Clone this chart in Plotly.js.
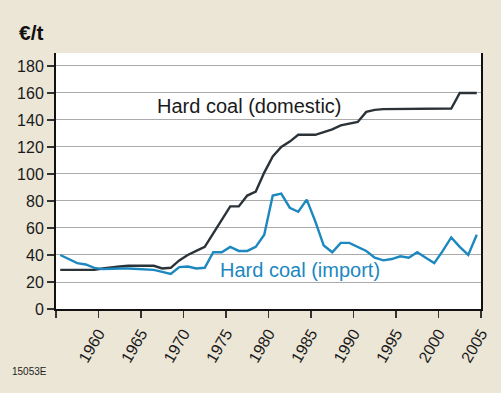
<!DOCTYPE html>
<html>
<head>
<meta charset="utf-8">
<script src="https://cdn.plot.ly/plotly-3.0.1.min.js"></script>
<style>
  html, body { margin: 0; padding: 0; background: #ECE6D7; }
  #chart { width: 501px; height: 393px; }
</style>
</head>
<body>
<div id="chart"></div>
<script>
// Years (annual values, plotted at mid-year)
const years = [];
for (let y = 1955; y <= 2004; y++) years.push(y);

// Hard coal (domestic), €/t
const domestic = [
  29, 29, 29, 29, 29,          // 1955-1959
  30, 31, 31.5, 32, 32,        // 1960-1964
  32, 32, 30, 30.5, 36,        // 1965-1969
  40, 43, 46, 56, 66,          // 1970-1974
  76, 76, 84, 87, 101,         // 1975-1979
  113, 120, 124, 129, 129,     // 1980-1984
  129, 131, 133, 136, 137,     // 1985-1989
  138.5, 146, 147.5, 148, 148, // 1990-1994
  148, 148, 148, 148, 148,     // 1995-1999
  148, 148.5, 160, 160, 160    // 2000-2004
];

// Hard coal (import), €/t
const imported = [
  40, 37, 34, 33, 30.5,        // 1955-1959
  29.5, 30, 30, 30, 29.5,      // 1960-1964
  29.5, 29, 27.5, 26, 31,      // 1965-1969
  31.5, 30, 30.5, 42, 42,      // 1970-1974
  46, 43, 43, 46, 55,          // 1975-1979
  84, 85.5, 75, 72, 81,        // 1980-1984
  65, 47, 42, 49, 49,          // 1985-1989
  46, 43, 38, 36, 37,          // 1990-1994
  39, 38, 42, 38, 34,          // 1995-1999
  43, 53, 46, 40, 55           // 2000-2004
];

const xTickVals = [1955, 1960, 1965, 1970, 1975, 1980, 1985, 1990, 1995, 2000, 2005];
const xTickText = ["", "1960", "1965", "1970", "1975", "1980", "1985", "1990", "1995", "2000", "2005"];
const yTickVals = [0, 20, 40, 60, 80, 100, 120, 140, 160, 180];

const xMid = years.map(y => y + 0.5);

const traces = [
  {
    x: xMid, y: domestic, type: 'scatter', mode: 'lines',
    line: { color: '#2b3338', width: 2.4 },
    name: 'Hard coal (domestic)', hoverinfo: 'none'
  },
  {
    x: xMid, y: imported, type: 'scatter', mode: 'lines',
    line: { color: '#1c88bf', width: 2.4 },
    name: 'Hard coal (import)', hoverinfo: 'none'
  }
];

const font = "Liberation Sans, Arial, Helvetica, sans-serif";

const layout = {
  width: 501, height: 393,
  paper_bgcolor: '#ECE6D7',
  plot_bgcolor: '#FFFFFF',
  margin: { l: 56, r: 20, t: 53, b: 84 },
  showlegend: false,
  font: { family: font, color: '#1a1a1a', size: 15 },
  xaxis: {
    range: [1955, 2005],
    tickmode: 'array', tickvals: xTickVals, ticktext: xTickText,
    tickangle: -60,
    ticks: 'outside', ticklen: 7, tickwidth: 1.3, tickcolor: '#333',
    showline: true, linecolor: '#111', linewidth: 2,
    showgrid: false, zeroline: false,
    tickfont: { family: font, size: 16, color: '#1a1a1a' },
    fixedrange: true
  },
  yaxis: {
    range: [0, 189.6],
    tickmode: 'array', tickvals: yTickVals,
    ticks: 'outside', ticklen: 7, tickwidth: 1.3, tickcolor: '#333',
    showline: true, linecolor: '#111', linewidth: 2, mirror: true,
    showgrid: true, gridcolor: '#ABABAB', gridwidth: 1,
    zeroline: false,
    tickfont: { family: font, size: 16, color: '#1a1a1a' },
    fixedrange: true
  },
  annotations: [
    {
      text: '<b>€/t</b>', xref: 'paper', yref: 'paper',
      x: -0.092, y: 1.08, xanchor: 'left', yanchor: 'middle',
      showarrow: false, font: { family: font, size: 21, color: '#111' }
    },
    {
      text: 'Hard coal (domestic)', xref: 'x', yref: 'y',
      x: 1966.7, y: 150, xanchor: 'left', yanchor: 'middle',
      showarrow: false, font: { family: font, size: 20, color: '#1a1a1a' }
    },
    {
      text: 'Hard coal (import)', xref: 'x', yref: 'y',
      x: 1974.0, y: 29, xanchor: 'left', yanchor: 'middle',
      showarrow: false, font: { family: font, size: 20, color: '#1c88bf' }
    },
    {
      text: '15053E', xref: 'paper', yref: 'paper',
      x: -0.108, y: -0.245, xanchor: 'left', yanchor: 'middle',
      showarrow: false, font: { family: font, size: 10, color: '#222' }
    }
  ]
};

Plotly.newPlot('chart', traces, layout, { displayModeBar: false, staticPlot: true });
</script>
</body>
</html>
